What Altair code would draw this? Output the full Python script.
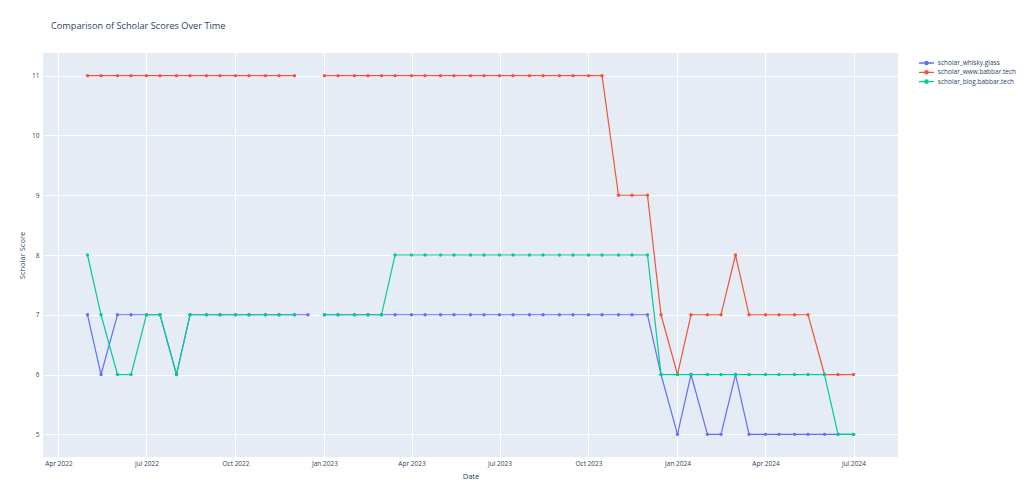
import altair as alt
import pandas as pd

dates = [
    "2022-05-01", "2022-05-15", "2022-06-01", "2022-06-15", "2022-07-01", "2022-07-15",
    "2022-08-01", "2022-08-15", "2022-09-01", "2022-09-15", "2022-10-01", "2022-10-15",
    "2022-11-01", "2022-11-15", "2022-12-01", "2022-12-15", "2022-12-24",
    "2023-01-01", "2023-01-15", "2023-02-01", "2023-02-15", "2023-03-01", "2023-03-15",
    "2023-04-01", "2023-04-15", "2023-05-01", "2023-05-15", "2023-06-01", "2023-06-15",
    "2023-07-01", "2023-07-15", "2023-08-01", "2023-08-15", "2023-09-01", "2023-09-15",
    "2023-10-01", "2023-10-15", "2023-11-01", "2023-11-15", "2023-12-01", "2023-12-15",
    "2024-01-01", "2024-01-15", "2024-02-01", "2024-02-15", "2024-03-01", "2024-03-15",
    "2024-04-01", "2024-04-15", "2024-05-01", "2024-05-15", "2024-06-01", "2024-06-15",
    "2024-07-01",
]

whisky = (
    [7, 6, 7, 7, 7, 7, 6, 7, 7, 7, 7, 7, 7, 7, 7, 7, None]
    + [7] * 23 + [6]
    + [5, 6, 5, 5, 6, 5, 5, 5, 5, 5, 5, 5, 5]
)
www = (
    [11] * 15 + [None, None]
    + [11] * 20 + [9, 9, 9, 7]
    + [6, 7, 7, 7, 8, 7, 7, 7, 7, 7, 6, 6, 6]
)
blog = (
    [8, 7, 6, 6, 7, 7, 6, 7, 7, 7, 7, 7, 7, 7, 7, None, None]
    + [7] * 5 + [8] * 18 + [6]
    + [6] * 11 + [5, 5]
)

series_names = ["scholar_whisky.glass", "scholar_www.babbar.tech", "scholar_blog.babbar.tech"]
series_values = [whisky, www, blog]
series_colors = ["#636efa", "#EF553B", "#00cc96"]

y_ticks = [5, 6, 7, 8, 9, 10, 11]
x_ticks = [
    (2022, 4), (2022, 7), (2022, 10), (2023, 1), (2023, 4), (2023, 7),
    (2023, 10), (2024, 1), (2024, 4), (2024, 7),
]

rows = []
for name, vals in zip(series_names, series_values):
    for d, v in zip(dates, vals):
        rows.append({"date": d, "series": name, "score": v})
df = pd.DataFrame(rows)
df["date"] = pd.to_datetime(df["date"])

FONT = "Open Sans"
TXT = "#2a3f5f"

legend_symbol = (
    "M-2,0 L2,0 "
    "M0.44,0 A0.44,0.44 0 1,1 -0.44,0 A0.44,0.44 0 1,1 0.44,0 Z"
)

color = alt.Color(
    "series:N",
    scale=alt.Scale(domain=series_names, range=series_colors),
    title=None,
    legend=alt.Legend(
        orient="none",
        legendX=879,
        legendY=5.5,
        symbolType=legend_symbol,
        symbolSize=56,
        symbolStrokeWidth=1.3,
        labelFont=FONT,
        labelFontSize=6.5,
        labelColor=TXT,
        rowPadding=0.3,
        labelOffset=6.8,
    ),
)

x = alt.X(
    "date:T",
    title="Date",
    scale=alt.Scale(domain=[alt.DateTime(year=2022, month=3, date=16),
                            alt.DateTime(year=2024, month=8, date=16)]),
    axis=alt.Axis(
        values=[alt.DateTime(year=yy, month=mm, date=1) for yy, mm in x_ticks],
        format="%b %Y",
        labelFont=FONT,
        labelFontSize=6.5,
        labelColor=TXT,
        titleFont=FONT,
        titleFontSize=7.5,
        titleFontWeight="normal",
        titleColor=TXT,
        titlePadding=6,
        labelPadding=3,
        domain=False,
        ticks=False,
        gridColor="white",
        gridWidth=1,
    ),
)

y = alt.Y(
    "score:Q",
    title="Scholar Score",
    scale=alt.Scale(domain=[4.62, 11.38], nice=False, zero=False),
    axis=alt.Axis(
        values=y_ticks,
        labelFont=FONT,
        labelFontSize=6.5,
        labelColor=TXT,
        titleFont=FONT,
        titleFontSize=7.5,
        titleFontWeight="normal",
        titleColor=TXT,
        titlePadding=5,
        labelPadding=4,
        domain=False,
        ticks=False,
        gridColor="white",
        gridWidth=1,
    ),
)

layers = []
for name in series_names:
    base = alt.Chart(df).transform_filter(alt.datum.series == name)
    line = base.mark_line(strokeWidth=1.2).encode(x=x, y=y, color=color)
    pts = base.mark_circle(size=11, opacity=1).encode(x=x, y=y, color=color)
    layers += [line, pts]

chart = alt.layer(*layers).properties(
    width=855,
    height=404,
    autosize=alt.AutoSizeParams(type="none"),
    padding={"left": 35, "top": 45, "right": 118, "bottom": 30},
    title=alt.TitleParams(
        "Comparison of Scholar Scores Over Time",
        anchor="start",
        frame="group",
        dx=8,
        offset=22,
        font=FONT,
        fontSize=9.2,
        fontWeight="normal",
        color=TXT,
    ),
).configure_view(fill="#E5ECF6", stroke=None)

chart.save("out.html", embed_options={"renderer": "svg", "actions": False})
